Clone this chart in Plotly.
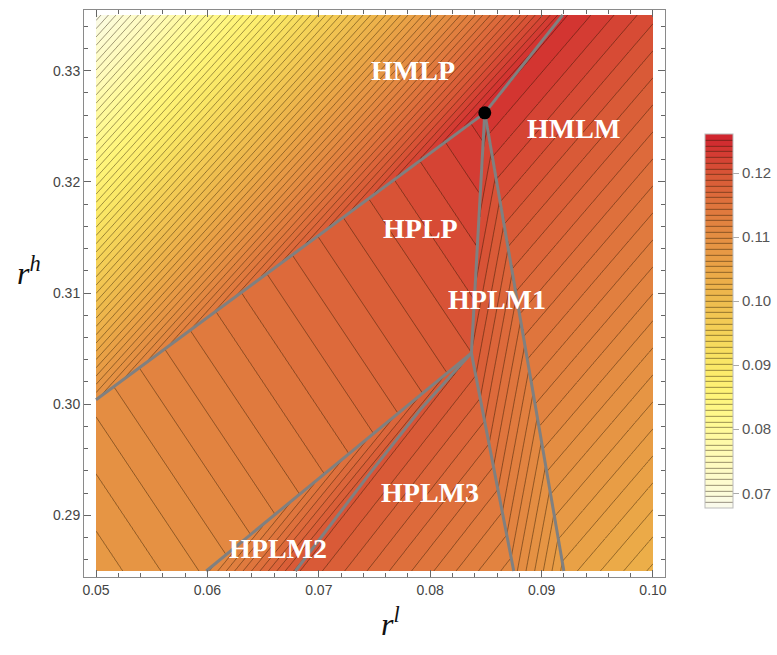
import numpy as np
import plotly.graph_objects as go

# ---------------- data ----------------
X_RANGE = [0.05, 0.10]
Y_RANGE = [0.285, 0.335]
GRID_N = 401

# boundary vertices (r_l, r_h)
TOP_LEFT = (0.0500, 0.3350)
TOP_RIGHT = (0.1000, 0.3350)
BOTTOM_LEFT = (0.0500, 0.2850)
BOTTOM_RIGHT = (0.1000, 0.2850)
P_LEFT = (0.0500, 0.3004)     # HMLP/HPLP boundary meets left edge
DOT = (0.0849, 0.3262)        # black point
B_TOP = (0.0919, 0.3350)      # HMLP/HMLM boundary meets top edge
J = (0.0837, 0.3046)          # lower junction
D_BOT = (0.0920, 0.2850)
E_BOT = (0.0875, 0.2850)
F_BOT = (0.0599, 0.2850)
G_X = [0.0837, 0.0791, 0.0746, 0.0705, 0.0679]   # curved HPLM2/HPLM3 boundary
G_Y = [0.3046, 0.2995, 0.2938, 0.2884, 0.2850]

# surface values at region corners (estimated from colours / contour counts)
HMLP_PTS = [TOP_LEFT, B_TOP, P_LEFT]
HMLP_Z = [0.0680, 0.1240, 0.1098]
HMLM_PTS = [TOP_RIGHT, B_TOP, BOTTOM_RIGHT]
HMLM_Z = [0.1210, 0.1245, 0.1025]
HPLP_PTS = [J, P_LEFT, BOTTOM_LEFT]
HPLP_Z = [0.1198, 0.1102, 0.1075]
HPLM1_PTS = [E_BOT, D_BOT, J]
HPLM1_Z = [0.1112, 0.1060, 0.1198]
HPLM3_PTS = [E_BOT, (G_X[-1], G_Y[-1]), J]
HPLM3_Z = [0.1112, 0.1200, 0.1198]
HPLM2_PTS = [F_BOT, (G_X[-1], G_Y[-1]), J]
HPLM2_Z = [0.1105, 0.1200, 0.1198]

Z_MIN, Z_MAX = 0.0677, 0.1261
N_BANDS = 65
CB_TICKS = [0.07, 0.08, 0.09, 0.10, 0.11, 0.12]

CS_VALUES = [0.0677, 0.070, 0.075, 0.080, 0.085, 0.090, 0.095, 0.100,
             0.105, 0.110, 0.115, 0.120, 0.1261]
CS_COLORS = ['#fafaeb', '#fdfcd6', '#fffbbb', '#fffa98', '#fff57a', '#fbe866',
             '#f5d258', '#efbc4e', '#eaa647', '#e59043', '#df763d', '#d95837',
             '#d0262f']

LABELS = ['HMLP', 'HMLM', 'HPLP', 'HPLM1', 'HPLM3', 'HPLM2']
LABEL_X = [0.0785, 0.0929, 0.0791, 0.0860, 0.0800, 0.0663]
LABEL_Y = [0.3300, 0.3248, 0.3158, 0.3094, 0.2921, 0.2870]

# ---------------- build surface ----------------
xs = np.linspace(X_RANGE[0], X_RANGE[1], GRID_N)
ys = np.linspace(Y_RANGE[0], Y_RANGE[1], GRID_N)
X, Y = np.meshgrid(xs, ys)


def plane(pts, zs):
    A = np.array([[1.0, p[0], p[1]] for p in pts])
    c = np.linalg.solve(A, np.array(zs))
    return c[0] + c[1] * X + c[2] * Y


def x_on(p, q, yy):
    return p[0] + (q[0] - p[0]) * (yy - p[1]) / (q[1] - p[1])


def y_on(p, q, xx):
    return p[1] + (q[1] - p[1]) * (xx - p[0]) / (q[0] - p[0])


above = Y > DOT[1]
xB = x_on(DOT, B_TOP, Y)
xD = x_on(DOT, D_BOT, Y)
yA = y_on(P_LEFT, DOT, X)
xCE = np.where(Y >= J[1], x_on(DOT, J, Y), x_on(J, E_BOT, Y))
xF = x_on(J, F_BOT, Y)
xG = np.interp(Y, G_Y[::-1], G_X[::-1])

m_hmlp = (above & (X < xB)) | (~above & (Y > yA) & (X < DOT[0]))
m_hmlm = (above & (X >= xB)) | (~above & (X >= xD))
rest = ~(m_hmlp | m_hmlm)
m_hplm1 = rest & (X >= xCE)
lower = rest & ~m_hplm1 & (Y < J[1])
m_hplm3 = lower & (X >= xG)
m_hplm2 = lower & (X < xG) & (X >= xF)

Z = np.select(
    [m_hmlp, m_hmlm, m_hplm1, m_hplm3, m_hplm2],
    [plane(HMLP_PTS, HMLP_Z), plane(HMLM_PTS, HMLM_Z), plane(HPLM1_PTS, HPLM1_Z),
     plane(HPLM3_PTS, HPLM3_Z), plane(HPLM2_PTS, HPLM2_Z)],
    default=plane(HPLP_PTS, HPLP_Z))
Z = np.round(Z, 5)

step = (Z_MAX - Z_MIN) / N_BANDS
colorscale = [[(v - Z_MIN) / (Z_MAX - Z_MIN), c] for v, c in zip(CS_VALUES, CS_COLORS)]

fig = go.Figure()
fig.add_trace(go.Contour(
    x=xs, y=ys, z=Z,
    zmin=Z_MIN, zmax=Z_MAX, autocontour=False,
    contours=dict(start=Z_MIN + step, end=Z_MAX - step / 2, size=step, coloring='fill'),
    colorscale=colorscale,
    line=dict(width=0.7, color='rgba(35,20,0,0.65)'),
    hoverinfo='skip',
    colorbar=dict(
        x=1.069, xanchor='left', y=0.4515, yanchor='middle',
        len=374, lenmode='pixels', thickness=28, thicknessmode='pixels',
        xpad=0, ypad=0,
        tickvals=CB_TICKS, ticktext=['%.2f' % v for v in CB_TICKS],
        ticks='outside', ticklen=6, tickcolor='#aaaaaa',
        tickfont=dict(family='Liberation Sans, Arial', size=15, color='#555555'),
        outlinewidth=1, outlinecolor='#bbbbbb')))

line_style = dict(color='#808080', width=3)
boundaries = [
    ([P_LEFT[0], DOT[0]], [P_LEFT[1], DOT[1]]),
    ([DOT[0], B_TOP[0]], [DOT[1], B_TOP[1]]),
    ([DOT[0], J[0], E_BOT[0]], [DOT[1], J[1], E_BOT[1]]),
    ([DOT[0], D_BOT[0]], [DOT[1], D_BOT[1]]),
    ([J[0], F_BOT[0]], [J[1], F_BOT[1]]),
    (G_X, G_Y),
]
for bx, by in boundaries:
    fig.add_trace(go.Scatter(x=bx, y=by, mode='lines', line=line_style,
                             showlegend=False, hoverinfo='skip'))

fig.add_trace(go.Scatter(x=[DOT[0]], y=[DOT[1]], mode='markers',
                         marker=dict(color='black', size=13), showlegend=False,
                         hoverinfo='skip'))

annotations = []
for t, lx, ly in zip(LABELS, LABEL_X, LABEL_Y):
    annotations.append(dict(x=lx, y=ly, xref='x', yref='y', text='<b>%s</b>' % t,
                            showarrow=False,
                            font=dict(family='Liberation Serif, Times New Roman', size=28,
                                      color='white')))
annotations.append(dict(x=0.527, y=-0.118, xref='paper', yref='paper',
                        text='<i>r</i><sup><i>l</i></sup>', showarrow=False,
                        font=dict(family='Liberation Serif', size=32, color='#111111')))
annotations.append(dict(x=-0.118, y=0.54, xref='paper', yref='paper',
                        text='<i>r</i><sup><i>h</i></sup>', showarrow=False,
                        font=dict(family='Liberation Serif', size=32, color='#111111')))

axis_common = dict(showgrid=False, zeroline=False, showline=True, linecolor='#8a8a8a',
                   linewidth=1, mirror='ticks', ticks='inside', ticklen=7,
                   tickcolor='#666666', tickformat='.2f',
                   tickfont=dict(family='Liberation Sans, Arial', size=14, color='#444444'))

fig.update_layout(
    width=777, height=655,
    margin=dict(l=84, r=112, t=10, b=78, autoexpand=False),
    paper_bgcolor='white', plot_bgcolor='white',
    showlegend=False,
    annotations=annotations,
    xaxis=dict(range=[0.04892, 0.10108], tick0=0.05, dtick=0.01,
               minor=dict(tick0=0.05, dtick=0.002, ticks='inside', ticklen=4,
                          tickcolor='#666666'),
               **axis_common),
    yaxis=dict(range=[0.28446, 0.33545], tick0=0.29, dtick=0.01,
               minor=dict(tick0=0.29, dtick=0.002, ticks='inside', ticklen=4,
                          tickcolor='#666666'),
               **axis_common),
)

fig.write_html('out.html', config={'displayModeBar': False},
               post_script="document.body.style.margin='0px';")
